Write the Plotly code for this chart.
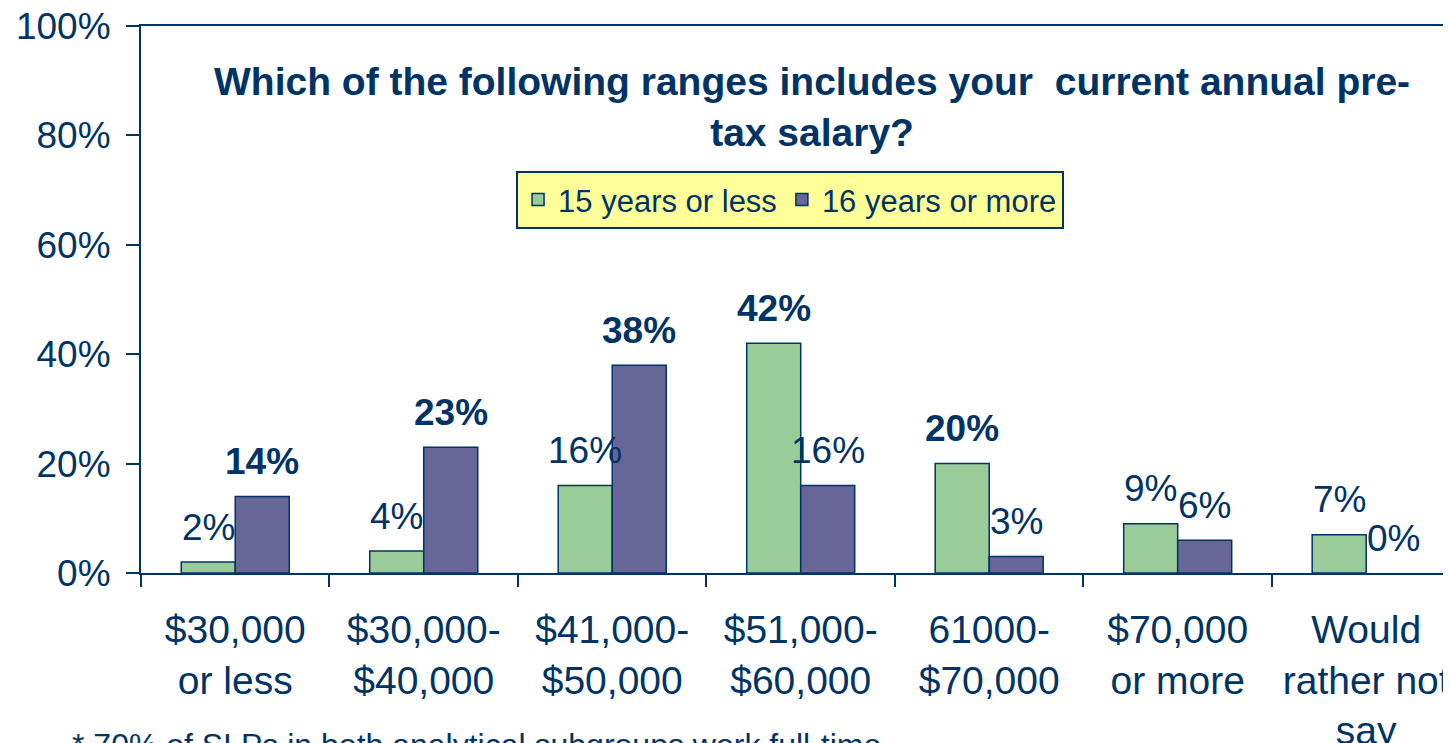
import plotly.graph_objects as go

categories = ["$30,000<br>or less", "$30,000-<br>$40,000", "$41,000-<br>$50,000",
              "$51,000-<br>$60,000", "61000-<br>$70,000", "$70,000<br>or more",
              "Would<br>rather not<br>say"]
series_names = ["15 years or less", "16 years or more"]
green_vals = [2, 4, 16, 42, 20, 9, 7]
purple_vals = [14, 23, 38, 16, 3, 6, 0]
green_bold = [False, False, False, True, True, False, False]
purple_bold = [True, True, True, False, False, False, False]
y_ticks = [0, 20, 40, 60, 80, 100]
y_tick_labels = ["0%", "20%", "40%", "60%", "80%", "100%"]

NAVY = "#003366"
GREEN = "#99CC99"
PURPLE = "#666699"
FONT = "Liberation Sans, Arial, sans-serif"
BARGAP = 0.427

fig = go.Figure()
fig.add_trace(go.Bar(x=categories, y=green_vals, name=series_names[0],
                     marker=dict(color=GREEN,
                                 line=dict(color=NAVY, width=[1.5 if v > 0 else 0 for v in green_vals]))))
fig.add_trace(go.Bar(x=categories, y=purple_vals, name=series_names[1],
                     marker=dict(color=PURPLE,
                                 line=dict(color=NAVY, width=[1.5 if v > 0 else 0 for v in purple_vals]))))

annotations = []
off = (1 - BARGAP) / 4
for i in range(len(categories)):
    for vals, bolds, sign in ((green_vals, green_bold, -1), (purple_vals, purple_bold, 1)):
        t = f"{vals[i]}%"
        if bolds[i]:
            t = f"<b>{t}</b>"
        annotations.append(dict(x=i + sign * off, y=vals[i], xref="x", yref="y",
                                text=t, showarrow=False, yshift=35, yanchor="middle",
                                font=dict(family=FONT, size=37, color=NAVY)))

annotations.append(dict(x=0.512, y=0.852, xref="paper", yref="paper",
                        text="<b>Which of the following ranges includes your  current annual pre-<br>tax salary?</b>",
                        showarrow=False, xanchor="center", yanchor="middle",
                        font=dict(family=FONT, size=39, color=NAVY)))
annotations.append(dict(x=-0.054, y=-0.314, xref="paper", yref="paper",
                        text="* 70% of SLPs in both analytical subgroups work full-time",
                        showarrow=False, xanchor="left", yanchor="middle",
                        font=dict(family=FONT, size=32, color=NAVY)))

fig.update_layout(
    width=1451, height=743,
    margin=dict(l=133, r=8, t=18, b=178, pad=0, autoexpand=False),
    paper_bgcolor="white", plot_bgcolor="white",
    barmode="group", bargap=BARGAP, bargroupgap=0,
    font=dict(family=FONT, color=NAVY),
    annotations=annotations,
    legend=dict(orientation="h", x=0.2863, y=0.735, xanchor="left", yanchor="top",
                bgcolor="#FFFF99", bordercolor=NAVY, borderwidth=2,
                font=dict(family=FONT, size=31, color=NAVY)),
    xaxis=dict(type="category", range=[-0.5, 6.45], showline=True, linecolor=NAVY,
               linewidth=2, mirror=True, ticks="outside", tickson="boundaries",
               ticklen=12, tickcolor=NAVY, tickwidth=2, showgrid=False,
               automargin=False, ticklabeloverflow="allow",
               tickfont=dict(family=FONT, size=39, color=NAVY),
               ticklabelstandoff=21),
    yaxis=dict(range=[0, 100], tickvals=y_ticks, ticktext=y_tick_labels, showline=True,
               linecolor=NAVY, linewidth=2, ticks="outside", ticklen=13,
               tickcolor=NAVY, tickwidth=2, showgrid=False, zeroline=False,
               automargin=False, ticklabeloverflow="allow",
               tickfont=dict(family=FONT, size=37, color=NAVY),
               ticklabelstandoff=8),
)

fig.write_html("out.html")
